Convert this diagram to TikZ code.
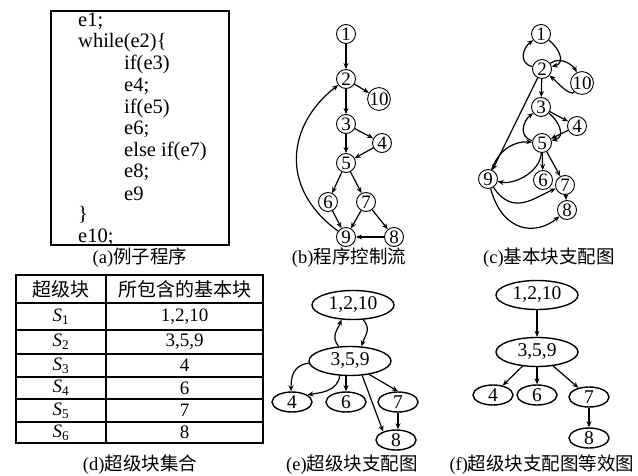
\documentclass[tikz,border=0pt]{standalone}
\usepackage{fontspec}
\setmainfont{Liberation Serif}
\newfontfamily\cjk{Noto Sans CJK SC}
\usetikzlibrary{arrows.meta,shapes.geometric}
\tikzset{
  cn/.style={circle,draw,line width=0.9pt,minimum size=19pt,inner sep=0pt,font=\fontsize{19}{19}\selectfont},
  bigel/.style={ellipse,draw,line width=1.4pt,inner sep=0pt,minimum width=82pt,minimum height=29pt,font=\fontsize{19.5}{19.5}\selectfont},
  smel/.style={ellipse,draw,line width=1.4pt,inner sep=0pt,minimum width=40pt,minimum height=20pt,font=\fontsize{19.5}{19.5}\selectfont},
  arr/.style={-{Stealth[length=6pt,width=5pt]},line width=1.2pt},
  codeline/.style={anchor=west,inner sep=0pt,font=\fontsize{20.5}{20.5}\selectfont},
  capt/.style={inner sep=0pt,font=\fontsize{18.5}{18.5}\selectfont},
  cell/.style={inner sep=0pt,font=\fontsize{19}{19}\selectfont},
  tline/.style={line width=1.3pt}
}
\begin{document}
\begin{tikzpicture}[x=1pt,y=-1pt]
\useasboundingbox (0,0) rectangle (638,476);
% ---------- (a) code ----------
\draw[line width=1.5pt] (51,11) rectangle (229,245);
\node[codeline] (l1) at (78,21) {e1;};
\node[codeline] (l2) at (78,43) {while(e2)\{};
\node[codeline] (l3) at (124,64) {if(e3)};
\node[codeline] (l4) at (124,86) {e4;};
\node[codeline] (l5) at (124,108) {if(e5)};
\node[codeline] (l6) at (124,129) {e6;};
\node[codeline] (l7) at (124,151) {else if(e7)};
\node[codeline] (l8) at (124,172) {e8;};
\node[codeline] (l9) at (124,194) {e9};
\node[codeline] (l10) at (78,215) {\}};
\node[codeline] (l11) at (78,237) {e10;};
\node[capt] (capa) at (140,258) {(a){\cjk 例子程序}};
% ---------- (b) control flow ----------
\node[cn] (b1) at (346,34) {1};
\node[cn] (b2) at (346,79) {2};
\node[cn] (b10) at (379,99) {10};
\node[cn] (b3) at (346,124) {3};
\node[cn] (b4) at (382,143) {4};
\node[cn] (b5) at (346,163) {5};
\node[cn] (b6) at (328,202) {6};
\node[cn] (b7) at (366,202) {7};
\node[cn] (b9) at (346,237) {9};
\node[cn] (b8) at (394,237) {8};
\draw[arr] (b1) -- (b2);
\draw[arr] (b2) -- (b10);
\draw[arr] (b2) -- (b3);
\draw[arr] (b3) -- (b4);
\draw[arr] (b3) -- (b5);
\draw[arr] (b4) -- (b5);
\draw[arr] (b5) -- (b6);
\draw[arr] (b5) -- (b7);
\draw[arr] (b6) -- (b9);
\draw[arr] (b7) -- (b9);
\draw[arr] (b7) -- (b8);
\draw[arr] (b8) -- (b9);
\draw[arr] (b9) .. controls +(-68,-50) and +(-58,45) .. (b2);
\node[capt] (capb) at (349,258) {(b){\cjk 程序控制流}};
% ---------- (c) dominator graph ----------
\node[cn] (c1) at (541,34) {1};
\node[cn] (c2) at (542,69) {2};
\node[cn] (c10) at (582,83) {10};
\node[cn] (c3) at (541,107) {3};
\node[cn] (c4) at (577,126) {4};
\node[cn] (c5) at (542,143) {5};
\node[cn] (c6) at (543,180) {6};
\node[cn] (c7) at (565,185) {7};
\node[cn] (c8) at (567,210) {8};
\node[cn] (c9) at (488,179) {9};
\draw[arr] (c2) .. controls +(-24,-6) and +(-18,14) .. (c1);
\draw[arr] (c1) .. controls +(18,14) and +(24,-6) .. (c2);
\draw[arr] (c2) .. controls +(20,-14) and +(-8,-16) .. (c10);
\draw[arr] (c10) .. controls +(-12,14) and +(14,12) .. (c2);
\draw[arr] (c2) -- (c3);
\draw[arr] (c2) -- (c9);
\draw[arr] (c5) .. controls +(-24,-6) and +(-18,14) .. (c3);
\draw[arr] (c3) .. controls +(18,14) and +(24,-6) .. (c5);
\draw[arr] (c3) -- (c4);
\draw[arr] (c4) -- (c5);
\draw[arr] (c5) -- (c6);
\draw[arr] (c5) -- (c7);
\draw[arr] (c7) -- (c8);
\draw[arr] (c9) .. controls +(12,-32) and +(-25,-2) .. (c5);
\draw[arr] (c5) .. controls +(-2,30) and +(25,6) .. (c9);
\draw[arr] (c9) .. controls +(25,38) and +(-30,12) .. (c7);
\draw[arr] (c9) .. controls +(15,55) and +(-30,25) .. (c8);
\node[capt] (capc) at (549,258) {(c){\cjk 基本块支配图}};
% ---------- (d) table ----------
\draw[tline] (16,275) rectangle (263,443);
\draw[tline] (106,275) -- (106,443);
\draw[tline] (16,303) -- (263,303);
\draw[tline] (16,330) -- (263,330);
\draw[tline] (16,354) -- (263,354);
\draw[tline] (16,377) -- (263,377);
\draw[tline] (16,399) -- (263,399);
\draw[tline] (16,422) -- (263,422);
\node[cell] (h1) at (61,289) {\cjk 超级块};
\node[cell] (h2) at (184.5,289) {\cjk 所包含的基本块};
\node[cell] (s1) at (61,316.5) {\textit{S}\textsubscript{1}};
\node[cell] (v1) at (184.5,316.5) {1,2,10};
\node[cell] (s2) at (61,342) {\textit{S}\textsubscript{2}};
\node[cell] (v2) at (184.5,342) {3,5,9};
\node[cell] (s3) at (61,365.5) {\textit{S}\textsubscript{3}};
\node[cell] (v3) at (184.5,365.5) {4};
\node[cell] (s4) at (61,388) {\textit{S}\textsubscript{4}};
\node[cell] (v4) at (184.5,388) {6};
\node[cell] (s5) at (61,410.5) {\textit{S}\textsubscript{5}};
\node[cell] (v5) at (184.5,410.5) {7};
\node[cell] (s6) at (61,432.5) {\textit{S}\textsubscript{6}};
\node[cell] (v6) at (184.5,432.5) {8};
\node[capt] (capd) at (140,465) {(d){\cjk 超级块集合}};
% ---------- (e) super block dominator graph ----------
\node[bigel] (e1) at (353,305) {1,2,10};
\node[bigel] (e2) at (350,361) {3,5,9};
\node[smel] (e4) at (292,402) {4};
\node[smel] (e6) at (346,402) {6};
\node[smel] (e7) at (398,402) {7};
\node[smel] (e8) at (396,440) {8};
\draw[arr] (e2.128) .. controls +(-8,-10) and +(-4,10) .. (e1.232);
\draw[arr] (e1.305) .. controls +(8,10) and +(4,-12) .. (e2.52);
\draw[arr] (e2.183) .. controls +(-16,2) and +(0,-14) .. (e4.95);
\draw[arr] (e2.235) .. controls +(-2,16) and +(12,-2) .. (e4.25);
\draw[arr] (e6 |- e2.south) -- (e6);
\draw[arr] (e2.-35) -- (e7.north);
\draw[arr] (e2.-50) -- (e8.147);
\draw[arr] (e7 |- e7.south) -- (e7 |- e8.north);
\node[capt] (cape) at (352,465) {(e){\cjk 超级块支配图}};
% ---------- (f) equivalent graph ----------
\node[bigel] (f1) at (537,295) {1,2,10};
\node[bigel] (f2) at (537,352) {3,5,9};
\node[smel] (f4) at (493,395) {4};
\node[smel] (f6) at (537,395) {6};
\node[smel] (f7) at (589,397) {7};
\node[smel] (f8) at (589,438) {8};
\draw[arr] (f1) -- (f2);
\draw[arr] (f2) -- (f4);
\draw[arr] (f2) -- (f6);
\draw[arr] (f2) -- (f7);
\draw[arr] (f7) -- (f8);
\node[capt] (capf) at (542,465) {(f){\cjk 超级块支配图等效图}};
\end{tikzpicture}
\end{document}
